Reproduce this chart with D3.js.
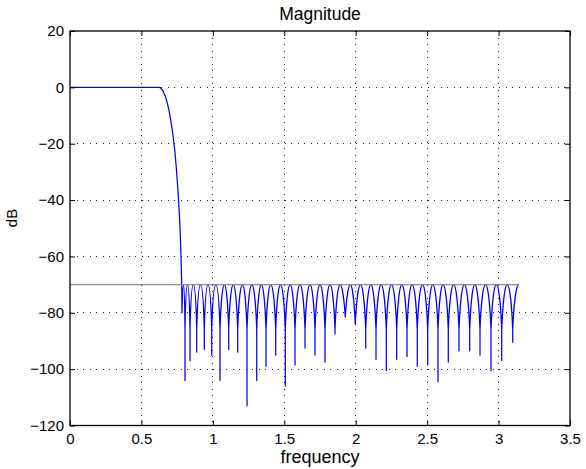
<!DOCTYPE html>
<html>
<head>
<meta charset="utf-8">
<script src="https://cdn.jsdelivr.net/npm/d3@7"></script>
<style>
  html, body { margin: 0; padding: 0; background: #fff; }
  svg { display: block; }
  text { font-family: "Liberation Sans", Arial, Helvetica, sans-serif; fill: #000; }
</style>
</head>
<body>
<svg id="chart" width="586" height="469"></svg>
<script>
// ---- data ----
const xTicks = [0, 0.5, 1, 1.5, 2, 2.5, 3, 3.5];
const yTicks = [-120, -100, -80, -60, -40, -20, 0, 20];

// passband + transition band (frequency, dB)
const passFreq = [0, 0.1, 0.2, 0.3, 0.4, 0.5, 0.6, 0.625, 0.653, 0.681, 0.712, 0.735, 0.754, 0.765, 0.775, 0.782];
const passDb   = [0, 0, 0, 0, 0, 0, 0, -0.05, -1.5, -5.5, -13.9, -23.2, -35.3, -44.6, -56.5, -69.8];

// stopband notches (frequency, depth in dB)
const notchFreq = [0.784, 0.805, 0.840, 0.887, 0.940, 0.992, 1.050, 1.111, 1.174, 1.239,
                   1.307, 1.372, 1.440, 1.507, 1.575, 1.645, 1.715, 1.785, 1.855, 1.927,
                   1.997, 2.070, 2.142, 2.214, 2.287, 2.359, 2.431, 2.504, 2.576, 2.648,
                   2.723, 2.798, 2.870, 2.947, 3.022, 3.099];
const notchDb   = [-80, -104, -97, -94, -93, -95, -104, -93, -94, -113,
                   -104, -99, -95, -106, -98.5, -92.5, -95, -97.5, -87.5, -81.5,
                   -84, -92.5, -96.5, -100.5, -96.5, -95.5, -99, -98.5, -104.5, -97.5,
                   -93.5, -93.5, -95, -100.5, -97, -90.5];
const rippleDb = -70;          // stopband ripple peak level
const endFreq = Math.PI;       // last sample of the response
const specDb = -70;            // grey specification line
const specFreq = [0, Math.PI];

// ---- layout ----
const W = 586, H = 469;
const m = { left: 70, right: 16, top: 31, bottom: 43.5 };
const svg = d3.select("#chart");
const x = d3.scaleLinear().domain([0, 3.5]).range([m.left, W - m.right]);
const y = d3.scaleLinear().domain([-120, 20]).range([H - m.bottom, m.top]);

const gGrid = svg.append("g");
gGrid.selectAll("line.vx").data(xTicks.filter(d => d > 0 && d < 3.5)).enter().append("line")
  .attr("x1", d => x(d)).attr("x2", d => x(d))
  .attr("y1", y(20)).attr("y2", y(-120))
  .attr("stroke", "#222").attr("stroke-width", 1).attr("stroke-dasharray", "1,5.5")
  .attr("shape-rendering", "crispEdges");
gGrid.selectAll("line.hy").data(yTicks.filter(d => d > -120 && d < 20)).enter().append("line")
  .attr("y1", d => y(d)).attr("y2", d => y(d))
  .attr("x1", x(0)).attr("x2", x(3.5))
  .attr("stroke", "#222").attr("stroke-width", 1).attr("stroke-dasharray", "1,5.5")
  .attr("shape-rendering", "crispEdges");

// ---- response curve ----
const p = d3.path();
const pts = passFreq.map((f, i) => [x(f), y(passDb[i])]);
d3.line().curve(d3.curveMonotoneX).context(p)(pts);

function riseTo(xn, dn, xp) {
  const w = xp - xn;
  const L0 = Math.max(dn, -86);
  p.lineTo(xn, y(L0));
  p.bezierCurveTo(xn + 0.2 * w, y(-76), xn + 0.6 * w, y(rippleDb), xp, y(rippleDb));
}
function fallTo(xp, xn, dn) {
  const w = xn - xp;
  const L0 = Math.max(dn, -86);
  p.bezierCurveTo(xp + 0.4 * w, y(rippleDb), xn - 0.2 * w, y(-76), xn, y(L0));
  p.lineTo(xn, y(dn));
}

const nx = notchFreq.map(f => x(f));
p.lineTo(nx[0], y(notchDb[0]));
for (let i = 0; i < nx.length - 1; i++) {
  const xp = (nx[i] + nx[i + 1]) / 2;
  riseTo(nx[i], notchDb[i], xp);
  fallTo(xp, nx[i + 1], notchDb[i + 1]);
}
riseTo(nx[nx.length - 1], notchDb[notchDb.length - 1], x(endFreq));

svg.append("path").attr("d", p.toString())
  .attr("fill", "none").attr("stroke", "#0000ff").attr("stroke-width", 1.25)
  .attr("stroke-linejoin", "round");

// grey spec line
svg.append("line")
  .attr("x1", x(specFreq[0])).attr("x2", x(specFreq[1]))
  .attr("y1", y(specDb)).attr("y2", y(specDb))
  .attr("stroke", "#8c8c8c").attr("stroke-width", 1.2);

// ---- axes (ticks inside, box) ----
const fmt = d => d3.format("")(d);
svg.append("g").attr("transform", `translate(0,${y(-120)})`)
  .call(d3.axisBottom(x).tickValues(xTicks).tickSize(-5).tickPadding(8).tickFormat(fmt))
  .call(g => { g.select(".domain").remove(); g.selectAll("text").style("font-size", "15px"); });
svg.append("g").attr("transform", `translate(0,${y(20)})`)
  .call(d3.axisTop(x).tickValues(xTicks).tickSize(-5).tickFormat(""))
  .call(g => g.select(".domain").remove());
svg.append("g").attr("transform", `translate(${x(0)},0)`)
  .call(d3.axisLeft(y).tickValues(yTicks).tickSize(-5).tickPadding(6).tickFormat(fmt))
  .call(g => { g.select(".domain").remove(); g.selectAll("text").style("font-size", "15px"); });
svg.append("g").attr("transform", `translate(${x(3.5)},0)`)
  .call(d3.axisRight(y).tickValues(yTicks).tickSize(-5).tickFormat(""))
  .call(g => g.select(".domain").remove());
svg.selectAll(".tick line").attr("stroke", "#000");

svg.append("rect")
  .attr("x", x(0)).attr("y", y(20))
  .attr("width", x(3.5) - x(0)).attr("height", y(-120) - y(20))
  .attr("fill", "none").attr("stroke", "#000").attr("stroke-width", 1.3);

// ---- labels ----
svg.append("text").attr("x", (x(0) + x(3.5)) / 2).attr("y", 20)
  .attr("text-anchor", "middle").style("font-size", "17.5px").text("Magnitude");
svg.append("text").attr("x", (x(0) + x(3.5)) / 2).attr("y", 463)
  .attr("text-anchor", "middle").style("font-size", "18px").text("frequency");
svg.append("text").attr("transform", "translate(17,218) rotate(-90)")
  .attr("text-anchor", "middle").style("font-size", "15px").text("dB");
</script>
</body>
</html>
